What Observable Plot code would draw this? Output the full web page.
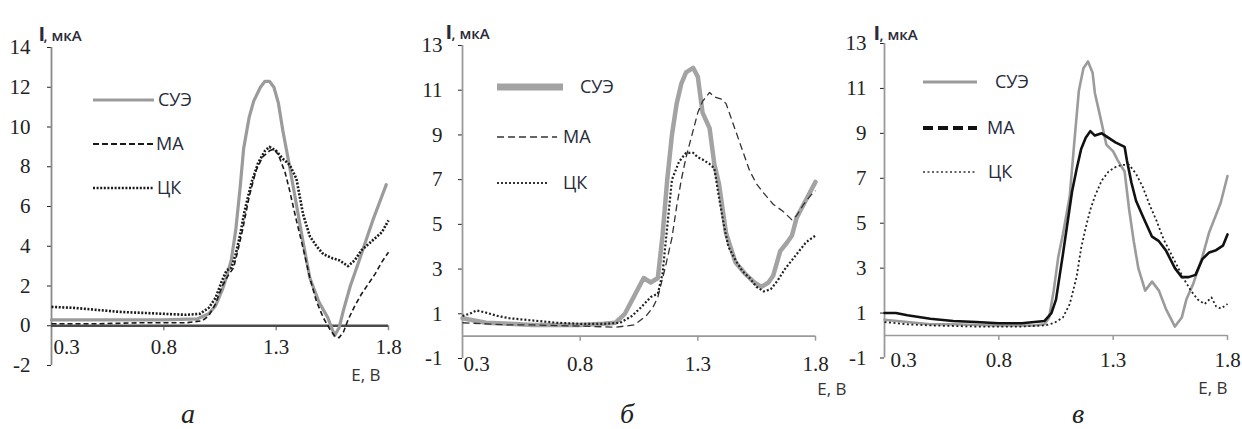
<!DOCTYPE html>
<html><head><meta charset="utf-8">
<script src="https://cdn.jsdelivr.net/npm/d3@7"></script>
<script src="https://cdn.jsdelivr.net/npm/@observablehq/plot@0.6"></script>
<style>
html,body{margin:0;padding:0;background:#fff;}
#wrap{position:relative;width:1242px;height:429px;overflow:hidden;background:#fff;}
#wrap svg.plotsvg{position:absolute;top:0;}
.cap{position:absolute;top:400px;width:40px;margin-left:-20px;text-align:center;font-family:"Liberation Serif",serif;font-style:italic;font-size:28px;line-height:28px;color:#222;}
</style></head>
<body><div id="wrap"></div>
<script>
// ---- text / ticks ----
const seriesNames = ["СУЭ", "МА", "ЦК"];
const panelLetters = ["а", "б", "в"];
const yLabelMain = "I";
const yLabelUnit = ", мкА";
const xLabel = "Е, В";
const xTickValues = [0.3, 0.8, 1.3, 1.8];
const xTickLabels = ["0.3", "0.8", "1.3", "1.8"];
const yTicksA = [-2, 0, 2, 4, 6, 8, 10, 12, 14];
const yTicksB = [-1, 1, 3, 5, 7, 9, 11, 13];
const yTicksC = [-1, 1, 3, 5, 7, 9, 11, 13];

// ---- panel а ----
const aSueE = [0.30,0.45,0.60,0.80,0.95,1.00,1.03,1.06,1.08,1.10,1.12,1.14,1.155,1.18,1.20,1.23,1.25,1.27,1.29,1.31,1.33,1.36,1.39,1.42,1.45,1.49,1.53,1.56,1.58,1.60,1.63,1.67,1.70,1.73,1.76,1.79];
const aSueI = [0.30,0.30,0.30,0.30,0.35,0.6,1.0,1.8,2.5,3.3,4.8,7.0,8.9,10.5,11.3,12.0,12.3,12.3,12.0,11.2,9.8,8.0,6.1,4.2,2.4,1.2,0.4,-0.5,-0.1,0.8,2.0,3.3,4.3,5.3,6.2,7.1];
const aMaE = [0.30,0.50,0.70,0.90,0.97,1.00,1.03,1.06,1.09,1.11,1.13,1.15,1.18,1.21,1.24,1.27,1.29,1.31,1.34,1.36,1.39,1.42,1.45,1.48,1.51,1.54,1.56,1.58,1.60,1.62,1.65,1.68,1.71,1.74,1.77,1.80];
const aMaI = [0.10,0.10,0.15,0.15,0.25,0.5,1.1,2.0,2.6,2.9,3.8,4.8,6.5,7.8,8.5,8.8,8.9,8.6,7.7,6.8,5.3,3.9,2.4,1.2,0.4,-0.2,-0.5,-0.6,-0.3,0.3,1.0,1.6,2.1,2.6,3.2,3.7];
const aCkE = [0.30,0.40,0.50,0.60,0.70,0.80,0.90,0.96,1.00,1.03,1.06,1.08,1.10,1.12,1.14,1.16,1.19,1.22,1.25,1.27,1.30,1.33,1.36,1.39,1.42,1.45,1.48,1.51,1.55,1.58,1.62,1.65,1.68,1.71,1.74,1.77,1.80];
const aCkI = [0.95,0.90,0.80,0.70,0.65,0.60,0.55,0.6,0.9,1.4,2.3,2.8,2.9,3.6,4.6,5.8,7.2,8.2,8.8,9.0,8.8,8.4,8.1,7.4,5.6,4.5,4.0,3.6,3.4,3.3,3.0,3.3,3.8,4.1,4.4,4.7,5.3];

// ---- panel б ----
const bSueE = [0.30,0.35,0.40,0.50,0.60,0.70,0.80,0.90,0.95,0.99,1.03,1.07,1.10,1.13,1.15,1.17,1.19,1.21,1.23,1.25,1.28,1.30,1.31,1.32,1.35,1.37,1.39,1.42,1.46,1.50,1.54,1.57,1.60,1.62,1.65,1.68,1.70,1.72,1.76,1.80];
const bSueI = [0.8,0.7,0.6,0.55,0.5,0.5,0.5,0.55,0.6,1.0,1.8,2.6,2.4,2.6,4.5,7.0,9.0,10.4,11.3,11.8,12.0,11.6,10.8,10.0,9.3,7.7,6.8,4.6,3.3,2.8,2.4,2.2,2.4,2.7,3.8,4.2,4.5,5.3,6.1,6.9];
const bMaE = [0.30,0.40,0.50,0.60,0.80,0.95,1.03,1.08,1.11,1.13,1.16,1.19,1.21,1.23,1.25,1.27,1.30,1.32,1.35,1.37,1.40,1.42,1.43,1.46,1.49,1.52,1.55,1.58,1.62,1.66,1.70,1.72,1.75,1.78,1.80];
const bMaI = [0.6,0.55,0.5,0.5,0.45,0.4,0.5,0.9,1.3,1.75,3.0,4.4,5.8,7.0,8.0,8.8,10.0,10.5,10.9,10.7,10.6,10.4,10.1,9.2,8.3,7.4,6.8,6.4,5.9,5.6,5.2,5.4,5.9,6.3,6.5];
const bCkE = [0.30,0.33,0.36,0.40,0.45,0.50,0.60,0.70,0.80,0.90,0.97,1.02,1.06,1.10,1.13,1.15,1.17,1.19,1.22,1.25,1.28,1.30,1.32,1.35,1.37,1.39,1.41,1.43,1.46,1.49,1.52,1.55,1.58,1.61,1.64,1.67,1.70,1.73,1.76,1.80];
const bCkI = [0.9,1.0,1.15,1.05,0.9,0.8,0.7,0.6,0.55,0.55,0.6,0.9,1.3,1.75,1.9,2.8,4.9,7.0,7.8,8.2,8.2,8.0,7.9,7.7,7.5,6.2,5.0,4.0,3.4,2.9,2.6,2.2,2.0,2.1,2.5,3.0,3.4,3.8,4.2,4.5];

// ---- panel в ----
const cSueE = [0.30,0.40,0.50,0.60,0.80,0.95,1.00,1.02,1.04,1.06,1.08,1.11,1.13,1.15,1.17,1.19,1.21,1.22,1.24,1.27,1.30,1.32,1.35,1.37,1.39,1.41,1.44,1.47,1.50,1.53,1.55,1.57,1.60,1.62,1.65,1.69,1.72,1.77,1.80];
const cSueI = [0.7,0.6,0.5,0.5,0.45,0.45,0.5,0.8,2.0,3.5,4.5,6.2,8.6,10.9,11.9,12.2,11.7,10.8,9.9,8.5,8.2,7.8,7.3,5.6,4.2,3.0,2.0,2.4,2.0,1.2,0.8,0.4,0.8,1.6,2.3,3.5,4.6,5.9,7.1];
const cMaE = [0.30,0.35,0.40,0.50,0.60,0.70,0.80,0.90,1.00,1.03,1.05,1.08,1.10,1.12,1.14,1.16,1.18,1.20,1.22,1.25,1.28,1.31,1.33,1.35,1.36,1.38,1.40,1.43,1.47,1.50,1.53,1.57,1.60,1.63,1.66,1.69,1.72,1.75,1.78,1.80];
const cMaI = [1.0,1.0,0.9,0.75,0.65,0.6,0.55,0.55,0.65,1.0,1.6,3.6,5.0,6.4,7.4,8.3,8.8,9.1,8.9,9.0,8.8,8.6,8.5,8.4,7.8,6.8,6.0,5.3,4.4,4.2,3.8,3.0,2.6,2.6,2.7,3.4,3.7,3.8,4.0,4.5];
const cCkE = [0.30,0.40,0.50,0.70,0.90,1.00,1.04,1.08,1.11,1.14,1.16,1.18,1.20,1.22,1.25,1.28,1.31,1.34,1.37,1.40,1.43,1.46,1.49,1.52,1.55,1.58,1.61,1.64,1.67,1.70,1.73,1.75,1.77,1.80];
const cCkI = [0.6,0.5,0.45,0.4,0.4,0.45,0.55,0.8,1.4,2.6,3.9,4.8,5.6,6.2,6.9,7.3,7.5,7.6,7.6,7.2,6.6,5.8,5.1,4.3,3.7,3.1,2.5,2.0,1.6,1.4,1.7,1.3,1.2,1.4];

// ---- layout / styles ----
const panels = [
  { left: 0, width: 410, height: 400, mL: 51, mR: 22, mT: 47, mB: 35, yDomain: [-2, 14], yTicks: yTicksA,
    axisStroke: "#8a8a8a", zeroStroke: "#4a4a4a", zeroWidth: 2.5, tickPad: 17, xLabDy: 22,
    iDx: -13, iDy: -21, uDx: -8, uDy: -17, eDx: -8, eDy: 15, first03Dx: 2,
    series: [
      { E: aSueE, I: aSueI, stroke: "#9b9b9b", w: 3.2, dash: null },
      { E: aMaE, I: aMaI, stroke: "#1a1a1a", w: 1.6, dash: "5,3" },
      { E: aCkE, I: aCkI, stroke: "#1a1a1a", w: 2.6, dash: "2,1.6" } ] },
  { left: 410, width: 420, height: 400, mL: 52, mR: 15, mT: 45, mB: 42, yDomain: [-1, 13], yTicks: yTicksB,
    axisStroke: "#9a9a9a", zeroStroke: "#9a9a9a", zeroWidth: 1.6, tickPad: 16, xLabDy: 28,
    iDx: -17, iDy: -21, uDx: -11, uDy: -17, eDx: 31, eDy: 36, first03Dx: 1,
    series: [
      { E: bSueE, I: bSueI, stroke: "#a3a3a3", w: 4.5, dash: null },
      { E: bMaE, I: bMaI, stroke: "#333", w: 1.3, dash: "7,4" },
      { E: bCkE, I: bCkI, stroke: "#222", w: 2.2, dash: "2,2" } ] },
  { left: 830, width: 412, height: 400, mL: 54, mR: 15, mT: 43, mB: 42.5, yDomain: [-1, 13], yTicks: yTicksC,
    axisStroke: "#9a9a9a", zeroStroke: "#9a9a9a", zeroWidth: 1.6, tickPad: 14, xLabDy: 25,
    iDx: -11, iDy: -18, uDx: -5, uDy: -14, eDx: 0, eDy: 36, first03Dx: 6,
    series: [
      { E: cSueE, I: cSueI, stroke: "#9b9b9b", w: 2.6, dash: null },
      { E: cMaE, I: cMaI, stroke: "#111", w: 2.6, dash: null },
      { E: cCkE, I: cCkI, stroke: "#222", w: 1.8, dash: "2,2.5" } ] }
];

const legends = [
  { x1: 93, x2: 154, ys: [100, 144, 188], tx: [158, 156, 157],
    st: [{s:"#9b9b9b",w:3.2,d:null},{s:"#1a1a1a",w:1.8,d:"6,3"},{s:"#1a1a1a",w:2.6,d:"2,1.6"}] },
  { x1: 497, x2: 560, ys: [87, 137, 183], tx: [580, 563, 563], x2s: [563, 557, 547],
    st: [{s:"#a3a3a3",w:7,d:null},{s:"#333",w:1.5,d:"7,4"},{s:"#333",w:2.2,d:"2,2"}] },
  { x1: 923, x2: 977, ys: [82, 128, 172], tx: [995, 987, 988],
    st: [{s:"#9b9b9b",w:2.8,d:null},{s:"#111",w:4,d:"10,5"},{s:"#333",w:1.6,d:"2,2.5"}] }
];
const capX = [188, 627, 1078];

const wrap = document.getElementById("wrap");

panels.forEach((p, k) => {
  const [y0, y1] = p.yDomain;
  const pxPerUnit = (p.height - p.mT - p.mB) / (y1 - y0);
  const tickLen = 5 / pxPerUnit;
  const marks = [
    Plot.ruleX([0.3], { y1: y0, y2: y1, stroke: p.axisStroke, strokeWidth: 1.8 }),
    Plot.ruleX(xTickValues.slice(1), { y1: 0, y2: -tickLen, stroke: p.axisStroke, strokeWidth: 1.5 }),
    Plot.ruleY([0], { stroke: p.zeroStroke, strokeWidth: p.zeroWidth }),
    Plot.text([xTickValues[0]], { x: d => d, y: 0, dy: p.xLabDy, dx: p.first03Dx, text: () => xTickLabels[0], textAnchor: "start", fill: "#222" }),
    Plot.text(xTickValues.slice(1), { x: d => d, y: 0, dy: p.xLabDy, text: (d, i) => xTickLabels[i + 1], fill: "#222" }),
    Plot.text([yLabelMain], { frameAnchor: "top-left", text: d => d, dx: p.iDx, dy: p.iDy, textAnchor: "start",
      fontFamily: "Open Sans", fontWeight: 700, fontSize: 20, fill: "#2a2a3a" }),
    Plot.text([yLabelUnit], { frameAnchor: "top-left", text: d => d, dx: p.uDx, dy: p.uDy, textAnchor: "start",
      fontFamily: "Open Sans", fontWeight: 600, fontSize: 15, fill: "#2a2a3a" }),
    Plot.text([xLabel], { frameAnchor: "bottom-right", text: d => d, dx: p.eDx, dy: p.eDy, textAnchor: "end",
      fontFamily: "Open Sans", fontSize: 17, fill: "#333" })
  ];
  p.series.forEach(s => {
    marks.push(Plot.line(s.E, { x: s.E, y: s.I, stroke: s.stroke, strokeWidth: s.w,
      strokeDasharray: s.dash || undefined, strokeLinejoin: "round", strokeLinecap: s.dash ? "butt" : "round" }));
  });
  const svg = Plot.plot({
    width: p.width, height: p.height,
    marginLeft: p.mL, marginRight: p.mR, marginTop: p.mT, marginBottom: p.mB,
    x: { domain: [0.3, 1.8], axis: null },
    y: { domain: p.yDomain, ticks: p.yTicks, tickSize: 4, tickPadding: p.tickPad, tickFormat: d => String(d), label: null },
    style: { background: "transparent", overflow: "visible", fontFamily: "Liberation Serif", fontSize: "21px", color: "#222", maxWidth: "none" },
    marks
  });
  svg.classList.add("plotsvg");
  svg.style.left = p.left + "px";
  svg.style.position = "absolute";
  svg.style.top = "0px";
  wrap.appendChild(svg);
});

// legend overlay
const ov = d3.select(wrap).append("svg").attr("width", 1242).attr("height", 429)
  .style("position", "absolute").style("left", 0).style("top", 0).style("pointer-events", "none");
legends.forEach(L => {
  seriesNames.forEach((name, i) => {
    const st = L.st[i];
    const x2 = L.x2s ? L.x2s[i] : L.x2;
    ov.append("line").attr("x1", L.x1).attr("x2", x2).attr("y1", L.ys[i]).attr("y2", L.ys[i])
      .attr("stroke", st.s).attr("stroke-width", st.w).attr("stroke-dasharray", st.d);
    ov.append("text").attr("x", L.tx[i]).attr("y", L.ys[i]).attr("dy", "0.35em")
      .attr("font-family", "Open Sans").attr("font-size", 18).attr("fill", "#262a3a").text(name);
  });
});

panelLetters.forEach((t, i) => {
  const d = document.createElement("div");
  d.className = "cap";
  d.style.left = capX[i] + "px";
  d.textContent = t;
  wrap.appendChild(d);
});
</script></body></html>
